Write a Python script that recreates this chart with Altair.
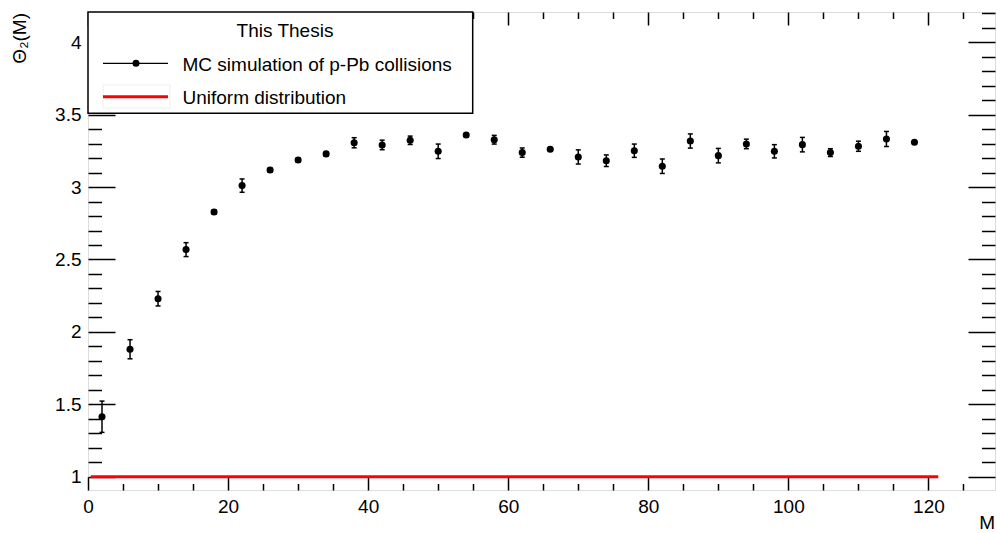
import altair as alt
import pandas as pd

FONT = "Liberation Sans"

# ---- data ----
m_values = [2, 6, 10, 14, 18, 22, 26, 30, 34, 38, 42, 46, 50, 54, 58,
            62, 66, 70, 74, 78, 82, 86, 90, 94, 98, 102, 106, 110, 114, 118]
theta_values = [1.414, 1.880, 2.229, 2.568, 2.828, 3.010, 3.118, 3.187, 3.229, 3.306,
                3.291, 3.323, 3.247, 3.360, 3.327, 3.238, 3.261, 3.208, 3.182, 3.251,
                3.144, 3.318, 3.217, 3.298, 3.247, 3.293, 3.238, 3.282, 3.332, 3.309]
theta_errors = [0.108, 0.066, 0.050, 0.048, 0.015, 0.046, 0.015, 0.015, 0.015, 0.035,
                0.033, 0.029, 0.050, 0.012, 0.030, 0.032, 0.012, 0.049, 0.040, 0.046,
                0.050, 0.049, 0.050, 0.033, 0.046, 0.050, 0.027, 0.035, 0.052, 0.012]

uniform_x = [0.4, 121.4]
uniform_y = [1.0, 1.0]

x_major_ticks = [0, 20, 40, 60, 80, 100, 120]
x_minor_ticks = [5, 10, 15, 25, 30, 35, 45, 50, 55, 65, 70, 75, 85, 90, 95,
                 105, 110, 115, 125]
y_major_ticks = [1, 1.5, 2, 2.5, 3, 3.5, 4]
y_minor_ticks = [round(1 + 0.1 * i, 1) for i in range(1, 33) if i % 5 != 0]

legend_header = "This Thesis"
legend_labels = ["MC simulation of p-Pb collisions", "Uniform distribution"]
x_title = "M"
y_title = "\u0398\u2082(M)"

X_DOMAIN = [0, 129.5]
Y_DOMAIN = [0.908, 4.209]

W, H = 907, 478

df = pd.DataFrame({"M": m_values, "theta": theta_values, "err": theta_errors})
df["lo"] = df["theta"] - df["err"]
df["hi"] = df["theta"] + df["err"]

xs = alt.Scale(domain=X_DOMAIN, nice=False, zero=False)
ys = alt.Scale(domain=Y_DOMAIN, nice=False, zero=False)


def axis(orient, values, size, labels=False, pad=7, fmt="~g"):
    kw = dict(orient=orient, values=values, tickSize=size, offset=-size,
              domain=False, grid=False, labels=labels, ticks=True,
              tickColor="black", tickWidth=1.5, title=None)
    if labels:
        kw.update(labelFont=FONT, labelFontSize=19, labelColor="black",
                  labelPadding=pad, format=fmt, labelFlush=False,
                  labelOverlap=False)
    return alt.Axis(**kw)


bars = alt.Chart(df).mark_rule(color="black", strokeWidth=1.5).encode(
    x=alt.X("M:Q", scale=xs, axis=axis("bottom", x_minor_ticks, 6.5)),
    y=alt.Y("lo:Q", scale=ys, axis=axis("left", y_minor_ticks, 13.5)),
    y2="hi:Q",
)

caps_lo = alt.Chart(df).mark_tick(orient="horizontal", size=5, thickness=1.5,
                                  color="black", opacity=1).encode(
    x=alt.X("M:Q", scale=xs, axis=axis("top", x_major_ticks, 13)),
    y=alt.Y("lo:Q", scale=ys, axis=axis("right", y_major_ticks, 27)),
)

caps_hi = alt.Chart(df).mark_tick(orient="horizontal", size=5, thickness=1.5,
                                  color="black", opacity=1).encode(
    x=alt.X("M:Q", scale=xs, axis=axis("top", x_minor_ticks, 6.5)),
    y=alt.Y("hi:Q", scale=ys, axis=axis("right", y_minor_ticks, 13.5)),
)

points = alt.Chart(df).mark_circle(size=50, color="black", opacity=1).encode(
    x=alt.X("M:Q", scale=xs, axis=axis("bottom", x_major_ticks, 13, labels=True, pad=7, fmt="d")),
    y=alt.Y("theta:Q", scale=ys, axis=axis("left", y_major_ticks, 27, labels=True, pad=7)),
)

uniform = alt.Chart(pd.DataFrame({"x": uniform_x, "y": uniform_y})).mark_line(
    color="#ff0000", strokeWidth=3).encode(
    x=alt.X("x:Q", scale=xs, axis=None),
    y=alt.Y("y:Q", scale=ys, axis=None),
)

one = pd.DataFrame({"header": [legend_header], "l1": [legend_labels[0]],
                    "l2": [legend_labels[1]], "xt": [x_title], "yt": [y_title]})

leg_box = alt.Chart(one).mark_rect(fill="white", stroke="black", strokeWidth=1.5).encode(
    x=alt.value(0), x2=alt.value(384.7), y=alt.value(0), y2=alt.value(101.3))

leg_header = alt.Chart(one).mark_text(font=FONT, fontSize=19, align="center",
                                      baseline="alphabetic", color="black").encode(
    x=alt.value(197), y=alt.value(25.4), text="header:N")

leg_line1 = alt.Chart(one).mark_rule(color="black", strokeWidth=1.2).encode(
    x=alt.value(15), x2=alt.value(80), y=alt.value(51.3))
leg_dot1 = alt.Chart(one).mark_circle(size=50, color="black", opacity=1).encode(
    x=alt.value(48), y=alt.value(51.3))
leg_text1 = alt.Chart(one).mark_text(font=FONT, fontSize=19, align="left",
                                     baseline="alphabetic", color="black").encode(
    x=alt.value(94.5), y=alt.value(59.4), text="l1:N")

leg_frame2 = alt.Chart(one).mark_rect(fill="white", stroke="#eeeeee", strokeWidth=1).encode(
    x=alt.value(15), x2=alt.value(82), y=alt.value(73), y2=alt.value(96))
leg_line2 = alt.Chart(one).mark_rule(color="#ff0000", strokeWidth=3).encode(
    x=alt.value(15), x2=alt.value(80), y=alt.value(84.7))
leg_text2 = alt.Chart(one).mark_text(font=FONT, fontSize=19, align="left",
                                     baseline="alphabetic", color="black").encode(
    x=alt.value(94.5), y=alt.value(92.4), text="l2:N")

x_title_mark = alt.Chart(one).mark_text(font=FONT, fontSize=19, align="right",
                                        baseline="alphabetic", color="black").encode(
    x=alt.value(W), y=alt.value(517), text="xt:N")
y_title_mark = alt.Chart(one).mark_text(font=FONT, fontSize=19, align="right",
                                        baseline="alphabetic", angle=270,
                                        color="black").encode(
    x=alt.value(-62), y=alt.value(1), text="yt:N")

chart = alt.layer(
    uniform, bars, caps_lo, caps_hi, points,
    leg_box, leg_header, leg_line1, leg_dot1, leg_text1,
    leg_frame2, leg_line2, leg_text2,
    x_title_mark, y_title_mark,
).resolve_axis(
    x="independent", y="independent"
).properties(
    width=W, height=H,
    padding={"left": 88, "top": 12, "right": 2, "bottom": 43},
    autosize=alt.AutoSizeParams(type="none"),
    background="white",
).configure_view(
    stroke="black", strokeWidth=1.5
).configure(font=FONT)

chart.save("out.html", embed_options={"renderer": "svg", "actions": False})
